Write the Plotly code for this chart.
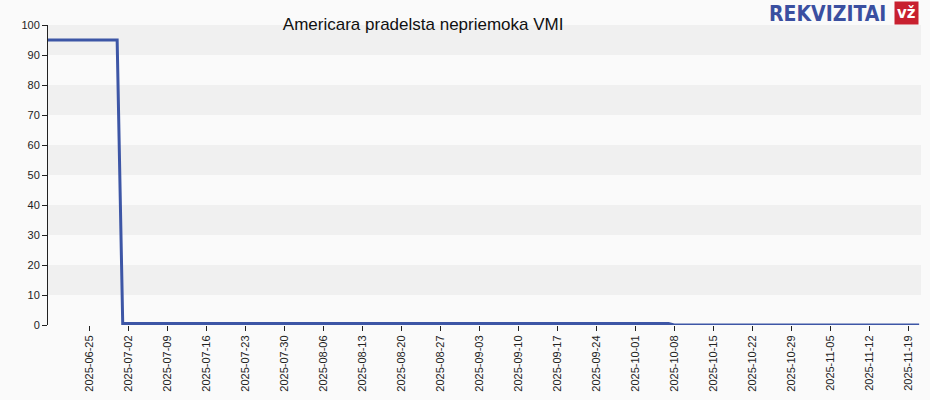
import plotly.graph_objects as go

dates = ["2025-06-17", "2025-06-30", "2025-07-01", "2025-10-07", "2025-10-08", "2025-11-21"]
values = [95, 95, 0.5, 0.5, 0, 0]
tick_dates = ["2025-06-25", "2025-07-02", "2025-07-09", "2025-07-16", "2025-07-23", "2025-07-30",
              "2025-08-06", "2025-08-13", "2025-08-20", "2025-08-27", "2025-09-03", "2025-09-10",
              "2025-09-17", "2025-09-24", "2025-10-01", "2025-10-08", "2025-10-15", "2025-10-22",
              "2025-10-29", "2025-11-05", "2025-11-12", "2025-11-19"]
title = "Americara pradelsta nepriemoka VMI"

fig = go.Figure()
fig.add_trace(go.Scatter(x=dates, y=values, mode="lines",
                         line=dict(color="#3d56a6", width=3), hoverinfo="skip"))
shapes = []
for lo in range(0, 100, 10):
    shapes.append(dict(type="rect", xref="paper", yref="y", x0=0, x1=1, y0=lo, y1=lo + 10,
                       fillcolor="#f0f0f0" if (lo // 10) % 2 == 1 else "#fafafa",
                       line=dict(width=0), layer="below"))
fig.update_layout(
    width=930, height=400, margin=dict(l=48, r=9, t=25, b=75, autoexpand=False),
    paper_bgcolor="#fafafa", plot_bgcolor="#fafafa", showlegend=False, shapes=shapes,
    font=dict(family="Liberation Sans, Arial", size=11, color="#222"),
    title=dict(text=title, x=0.455, xanchor="center", y=0.94, yanchor="middle",
               font=dict(size=17, color="#111")),
    xaxis=dict(range=["2025-06-17 14:00", "2025-11-21 08:00"], tickvals=tick_dates, ticktext=tick_dates,
               tickangle=-90, ticks="outside", ticklen=5, tickcolor="#222", showgrid=False,
               showline=False, zeroline=False),
    yaxis=dict(range=[0, 100], dtick=10, ticks="outside", ticklen=5, tickcolor="#222",
               showline=True, linecolor="#222", showgrid=False, zeroline=False),
    annotations=[
        dict(text="<b>REKVIZITAI</b>", x=0.962, y=1 + 25 / 300, xref="paper", yref="paper", showarrow=False,
             xanchor="right", yanchor="top",
             font=dict(size=21, color="#3a4fa0", family="DejaVu Sans Condensed, DejaVu Sans")),
        dict(text="<b>vž</b>", x=0.998, y=1 + 24 / 300, xref="paper", yref="paper", showarrow=False,
             xanchor="right", yanchor="top", font=dict(size=15, color="white", family="DejaVu Sans"),
             bgcolor="#c8202f", borderpad=2),
    ],
)
fig.write_html("out.html", config={"displayModeBar": False},
               post_script="document.body.style.margin='0';")
